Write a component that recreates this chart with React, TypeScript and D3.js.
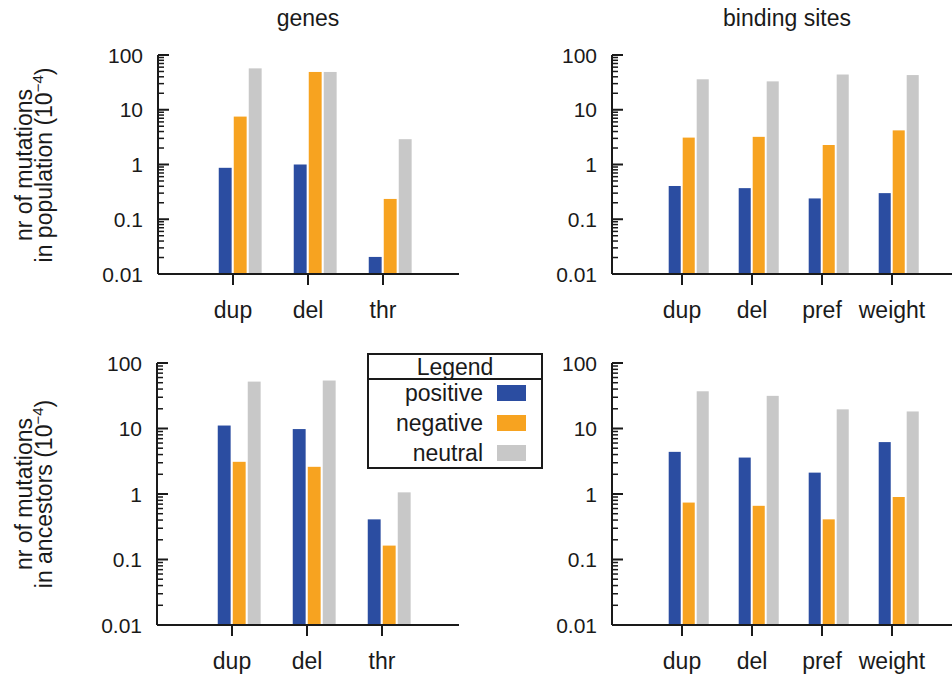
import React from "react";
import * as d3 from "d3";

const geneCats = ["dup", "del", "thr"];
const siteCats = ["dup", "del", "pref", "weight"];
const seriesNames = ["positive", "negative", "neutral"];
const seriesColors = ["#2b4da1", "#f7a320", "#c8c8c8"];
const yTicks = [0.01, 0.1, 1, 10, 100];
const yTickLabels = ["0.01", "0.1", "1", "10", "100"];

// values [positive, negative, neutral] per category
const genesPopulation = [
  [0.87, 7.5, 57],
  [1.0, 49, 49],
  [0.0205, 0.235, 2.9],
];
const sitesPopulation = [
  [0.405, 3.1, 36],
  [0.37, 3.2, 33],
  [0.24, 2.27, 44],
  [0.3, 4.2, 43],
];
const genesAncestors = [
  [11.1, 3.1, 52],
  [9.8, 2.6, 54],
  [0.41, 0.163, 1.06],
];
const sitesAncestors = [
  [4.4, 0.74, 37],
  [3.6, 0.66, 31.5],
  [2.12, 0.41, 19.6],
  [6.2, 0.9, 18.2],
];

const FONT = "'Liberation Sans', Arial, Helvetica, sans-serif";
const INK = "#1a1a1a";

type PanelProps = {
  cats: string[];
  data: number[][];
  axisX: number;
  catStep: number;
  yTop: number;
  yBottom: number;
  xEnd: number;
};

function Panel({ cats, data, axisX, catStep, yTop, yBottom, xEnd }: PanelProps) {
  const n = cats.length;
  const x = d3.scaleLinear().domain([0, n + 1]).range([axisX, axisX + (n + 1) * catStep]);
  const y = d3.scaleLog().domain([0.01, 100]).range([yBottom, yTop]);
  const barStep = catStep * 0.2;
  const barW = catStep * 0.172;
  const minor: number[] = [];
  for (let e = -2; e < 2; e++) {
    for (let m = 2; m <= 9; m++) minor.push(m * Math.pow(10, e));
  }
  return (
    <g>
      {data.map((vals, ci) =>
        vals.map((v, si) => {
          const cx = x(ci + 1);
          const bx = cx - barStep * 0.95 + si * barStep;
          return (
            <rect
              key={`${ci}-${si}`}
              x={bx}
              y={y(v)}
              width={barW}
              height={yBottom - y(v)}
              fill={seriesColors[si]}
            />
          );
        })
      )}
      {/* y axis */}
      <line x1={axisX} x2={axisX} y1={yTop} y2={yBottom} stroke={INK} strokeWidth={2} />
      {yTicks.map((t, i) => (
        <g key={t}>
          <line x1={axisX} x2={axisX + 11} y1={y(t)} y2={y(t)} stroke={INK} strokeWidth={2} />
          <text
            x={axisX - 15}
            y={y(t)}
            textAnchor="end"
            dominantBaseline="central"
            fontFamily={FONT}
            fontSize={21}
            fill={INK}
          >
            {yTickLabels[i]}
          </text>
        </g>
      ))}
      {minor.map((t) => (
        <line key={t} x1={axisX} x2={axisX + 6} y1={y(t)} y2={y(t)} stroke={INK} strokeWidth={1.5} />
      ))}
      {/* x axis */}
      <line x1={axisX} x2={xEnd} y1={yBottom} y2={yBottom} stroke={INK} strokeWidth={2} />
      {cats.map((c, i) => (
        <g key={c}>
          <line x1={x(i + 1)} x2={x(i + 1)} y1={yBottom} y2={yBottom + 11} stroke={INK} strokeWidth={2} />
          <text
            x={x(i + 1)}
            y={yBottom + 44}
            textAnchor="middle"
            fontFamily={FONT}
            fontSize={23}
            fill={INK}
          >
            {c}
          </text>
        </g>
      ))}
    </g>
  );
}

function YLabel({ cy, second }: { cy: number; second: string }) {
  return (
    <g fontFamily={FONT} fontSize={23} fill={INK}>
      <text transform={`translate(32,${cy}) rotate(-90)`} textAnchor="middle">
        nr of mutations
      </text>
      <text transform={`translate(52,${cy}) rotate(-90)`} textAnchor="middle">
        {second} (10
        <tspan fontSize={15} dy={-9}>−4</tspan>
        <tspan dy={9}>)</tspan>
      </text>
    </g>
  );
}

export default function App() {
  return (
    <svg
      width={952}
      height={674}
      style={{ position: "absolute", left: 0, top: 0, background: "#fff" }}
    >
      <rect width={952} height={674} fill="#fff" />
      <text x={308} y={26} textAnchor="middle" fontFamily={FONT} fontSize={23} fill={INK}>
        genes
      </text>
      <text x={787} y={26} textAnchor="middle" fontFamily={FONT} fontSize={23} fill={INK}>
        binding sites
      </text>
      <YLabel cy={165} second="in population" />
      <YLabel cy={494} second="in ancestors" />

      <Panel cats={geneCats} data={genesPopulation} axisX={158} catStep={75} yTop={55} yBottom={274} xEnd={459} />
      <Panel cats={siteCats} data={sitesPopulation} axisX={612} catStep={70} yTop={55} yBottom={274} xEnd={952} />
      <Panel cats={geneCats} data={genesAncestors} axisX={157} catStep={75} yTop={363} yBottom={625} xEnd={459} />
      <Panel cats={siteCats} data={sitesAncestors} axisX={612} catStep={70} yTop={363} yBottom={625} xEnd={952} />

      {/* legend */}
      <g fontFamily={FONT} fontSize={23} fill={INK}>
        <rect x={368} y={354} width={174} height={114} fill="#fff" stroke={INK} strokeWidth={2} />
        <line x1={368} x2={542} y1={379} y2={379} stroke={INK} strokeWidth={2} />
        <text x={455} y={375} textAnchor="middle">Legend</text>
        {seriesNames.map((s, i) => (
          <g key={s}>
            <text x={483} y={393 + i * 30} textAnchor="end" dominantBaseline="central">
              {s}
            </text>
            <rect x={497} y={393 + i * 30 - 8} width={29} height={16} fill={seriesColors[i]} />
          </g>
        ))}
      </g>
    </svg>
  );
}
